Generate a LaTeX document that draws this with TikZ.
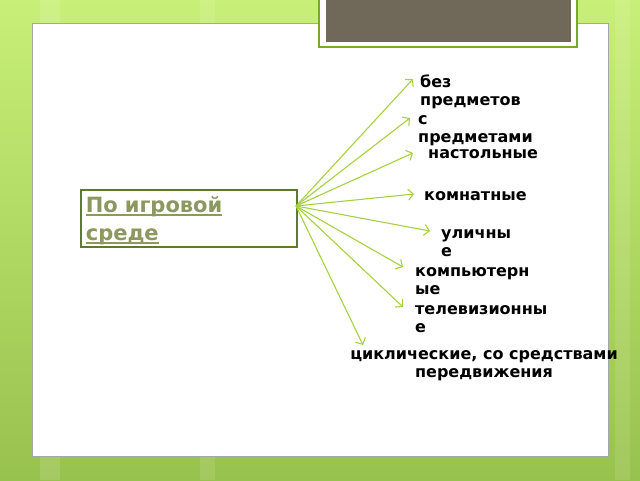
\documentclass[tikz,border=0pt]{standalone}
\usepackage{fontspec}
\setmainfont{DejaVu Sans}
\usepackage{xcolor}
\usetikzlibrary{arrows,arrows.meta}

\definecolor{arrowgreen}{RGB}{166,210,66}
\definecolor{boxgreen}{RGB}{95,122,45}
\definecolor{framegreen}{RGB}{120,170,40}
\definecolor{titlegray}{RGB}{112,104,88}
\definecolor{bgtop}{RGB}{200,240,120}
\definecolor{bgbottom}{RGB}{152,194,78}
\definecolor{textolive}{RGB}{140,152,95}

\newsavebox{\ulbox}
\newcommand{\ulword}[1]{\hbox{\sbox{\ulbox}{#1}\rlap{\rule[-3pt]{\wd\ulbox}{1.4pt}}\usebox{\ulbox}}}

\begin{document}
\begin{tikzpicture}[x=1pt,y=-1pt,>={Straight Barb[length=5pt,width=11pt]},
	label node/.style={anchor=base west,inner sep=0pt,align=left,
		font=\fontsize{16}{18}\selectfont\bfseries},
	leaf/.style={->,draw=arrowgreen,line width=1.1pt},
	main node/.style={draw=boxgreen,line width=1.6pt,fill=white,anchor=north west,
		minimum width=216pt,minimum height=57pt,text width=206pt,align=left,
		inner xsep=5pt,inner ysep=0pt,text=textolive,font=\fontsize{21}{28}\selectfont\bfseries}]
	\useasboundingbox (0,0) rectangle (640,480);
	% Background
	  \shade[top color=bgtop,bottom color=bgbottom] (0,0) rectangle (640,480);
	  \fill[white,opacity=0.12] (40,0) rectangle (60,480);
	  \fill[white,opacity=0.10] (200,0) rectangle (215,480);
	  \fill[white,opacity=0.10] (615,0) rectangle (630,480);
	  \draw[fill=white,draw=gray!70] (32,23) rectangle (608,456);
	  \draw[fill=white,draw=framegreen,line width=2.2pt] (319,-3) rectangle (577,47);
	  \fill[titlegray] (326,-3) rectangle (571,42);
	
	% Nodes
	  \node (M) [main node] at (80,189)
	    {\rule{0pt}{21pt}\ulword{По игровой}\\\ulword{среде}};
	  \coordinate (O) at (296,206);
	
	  \node (T1) [label node] at (420,105) {без\\предметов};
	  \node (T2) [label node] at (418,142) {с\\предметами};
	  \node (T3) [label node] at (428,158) {настольные};
	  \node (T4) [label node] at (424,200) {комнатные};
	  \node (T5) [label node] at (441,256) {уличны\\е};
	  \node (T6) [label node] at (415,294) {компьютерн\\ые};
	  \node (T7) [label node] at (415,332) {телевизионны\\е};
	  \node (T8) [label node,anchor=base,align=center] at (484,377)
	    {циклические, со средствами\\передвижения};
	
	  \coordinate (E1) at (413,79);
	  \coordinate (E2) at (410,118);
	  \coordinate (E3) at (413,153);
	  \coordinate (E4) at (414,194);
	  \coordinate (E5) at (430,231);
	  \coordinate (E6) at (403,267);
	  \coordinate (E7) at (403,307);
	  \coordinate (E8) at (363,345);
	
	% Edges
	  \foreach \i in {1,...,8}
	    \draw[leaf] (O) -- (E\i);
	
\end{tikzpicture}
\end{document}
